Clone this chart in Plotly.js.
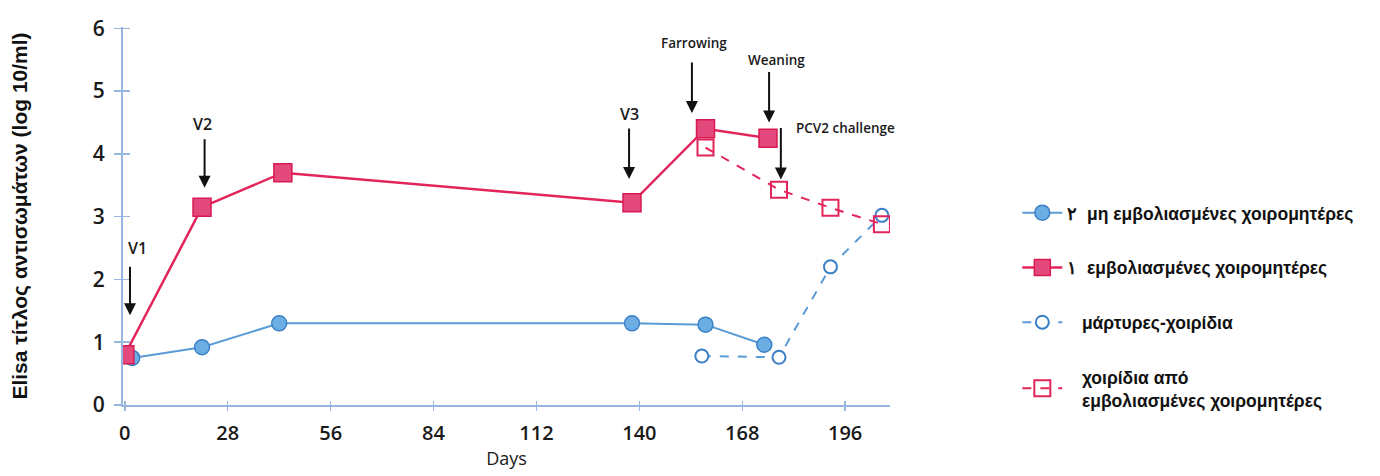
<!DOCTYPE html>
<html>
<head>
<meta charset="utf-8">
<script src="https://cdn.plot.ly/plotly-3.0.1.min.js"></script>
<style>html,body{margin:0;padding:0;background:#fff;}#chart{width:1380px;height:476px;}</style>
</head>
<body>
<div id="chart"></div>
<script>
// ---- data ----
const daysSowsUnvacc = [2, 21, 42, 138, 158, 174];
const titerSowsUnvacc = [0.75, 0.92, 1.3, 1.3, 1.28, 0.96];
const daysSowsVacc = [0, 21, 43, 138, 158, 175];
const titerSowsVacc = [0.8, 3.15, 3.7, 3.22, 4.4, 4.25];
const daysPigletsCtrl = [157, 178, 192, 206];
const titerPigletsCtrl = [0.78, 0.76, 2.2, 3.02];
const daysPigletsVacc = [158, 178, 192, 206];
const titerPigletsVacc = [4.1, 3.43, 3.14, 2.88];

const seriesNames = [
  '\u0662  μη εμβολιασμένες χοιρομητέρες',
  '\u0661  εμβολιασμένες χοιρομητέρες',
  '   μάρτυρες-χοιρίδια',
  '   χοιρίδια από<br>   εμβολιασμένες χοιρομητέρες'
];

const xTickVals = [0, 28, 56, 84, 112, 140, 168, 196];
const yTickVals = [0, 1, 2, 3, 4, 5, 6];

const eventLabels = ['V1', 'V2', 'V3', 'Farrowing', 'Weaning', 'PCV2 challenge'];
const eventDays = [1.4, 21.7, 137.2, 154.3, 175.3, 178.5];
const eventTiters = [1.43, 3.46, 3.6, 4.65, 4.5, 3.59];

// ---- styling ----
const RED = '#e2245a';
const RED_FILL = '#e4497d';
const BLUE = '#5b9bd5';
const BLUE_FILL = '#6cade3';
const BLUE_EDGE = '#3b80c6';
const AXIS = '#97b6df';

const arrowLen = [50, 50, 52, 52, 52, 53];
const textDx = [8, -2, 0, 2, 7, 65];
const textDy = [67, 64, 65, 70, 62, 52];
const textSize = [16, 16, 16, 13.5, 13.5, 13.5];

const traces = [
  {x: daysSowsUnvacc, y: titerSowsUnvacc, name: seriesNames[0], legendgroup: 'a',
   mode: 'lines+markers', line: {color: BLUE, width: 2},
   marker: {symbol: 'circle', size: 15, color: BLUE_FILL, line: {color: BLUE_EDGE, width: 1.5}}},
  {x: daysSowsVacc, y: titerSowsVacc, name: seriesNames[1], legendgroup: 'b',
   mode: 'lines+markers', line: {color: RED, width: 2.5},
   marker: {symbol: 'square', size: 18, color: RED_FILL, line: {color: '#d81c52', width: 1.5}}},
  {x: daysPigletsCtrl, y: titerPigletsCtrl, name: seriesNames[2], legendgroup: 'c',
   mode: 'lines+markers', line: {color: BLUE, width: 2, dash: 'dash'},
   marker: {symbol: 'circle', size: 13, color: '#ffffff', line: {color: BLUE_EDGE, width: 2}}},
  {x: daysPigletsVacc, y: titerPigletsVacc, name: seriesNames[3], legendgroup: 'd',
   mode: 'lines+markers', line: {color: RED, width: 2, dash: 'dash'},
   marker: {symbol: 'square-open', size: 16, color: RED, line: {color: RED, width: 2}}},
  // helper (no data) for the crossing tick marks
  {x: [null], y: [null], xaxis: 'x2', yaxis: 'y2', showlegend: false, hoverinfo: 'skip', mode: 'markers'}
];

const annotations = [];
for (let i = 0; i < eventLabels.length; i++) {
  annotations.push({
    x: eventDays[i], y: eventTiters[i], xref: 'x', yref: 'y',
    text: '', showarrow: true, ax: 0, ay: -arrowLen[i],
    arrowhead: 2, arrowsize: 1.2, arrowwidth: 2, arrowcolor: '#111111'
  });
  annotations.push({
    x: eventDays[i], y: eventTiters[i], xref: 'x', yref: 'y',
    text: eventLabels[i], showarrow: false,
    xshift: textDx[i], yshift: textDy[i],
    font: {family: 'Open Sans', size: textSize[i], color: '#1a1a1a', weight: 600}
  });
}

const layout = {
  width: 1380, height: 476,
  paper_bgcolor: '#ffffff', plot_bgcolor: '#ffffff',
  margin: {l: 123, r: 490, t: 27, b: 71},
  showlegend: true,
  xaxis: {
    range: [-0.5, 208.2], tickvals: xTickVals, ticktext: xTickVals.map(String),
    showgrid: false, zeroline: false, showline: true, linecolor: AXIS, linewidth: 2,
    ticks: 'outside', ticklen: 4, tickcolor: AXIS, tickwidth: 1.5,
    ticklabelstandoff: 5,
    tickfont: {family: 'Open Sans', size: 20, color: '#1a1a1a', weight: 600},
    title: {text: 'Days', standoff: 4, font: {family: 'Open Sans', size: 18, color: '#1a1a1a'}}
  },
  yaxis: {
    range: [0, 6.02], tickvals: yTickVals, ticktext: yTickVals.map(String),
    showgrid: false, zeroline: false, showline: true, linecolor: AXIS, linewidth: 2,
    ticks: 'outside', ticklen: 7, tickcolor: AXIS, tickwidth: 1.5,
    ticklabelstandoff: 5,
    tickfont: {family: 'Open Sans', size: 21, color: '#1a1a1a', weight: 600},
    title: {text: 'Elisa τίτλος αντισωμάτων (log 10/ml)', standoff: 59,
            font: {family: 'Liberation Sans', size: 21, color: '#111111', weight: 'bold'}}
  },
  xaxis2: {overlaying: 'x', range: [-0.5, 208.2], tickvals: xTickVals, showticklabels: false,
           showgrid: false, zeroline: false, showline: false, ticks: 'inside', ticklen: 4,
           tickcolor: AXIS, tickwidth: 1.5, side: 'bottom'},
  yaxis2: {overlaying: 'y', range: [0, 6.02], tickvals: yTickVals, showticklabels: false,
           showgrid: false, zeroline: false, showline: false, ticks: 'inside', ticklen: 7,
           tickcolor: AXIS, tickwidth: 1.5, side: 'left'},
  legend: {
    x: 1.166, y: 0.556, xanchor: 'left', yanchor: 'top',
    traceorder: 'grouped', tracegroupgap: 29, itemwidth: 40,
    bgcolor: 'rgba(0,0,0,0)',
    font: {family: 'Liberation Sans', size: 17.5, color: '#111111', weight: 'bold'}
  },
  annotations: annotations
};

Plotly.newPlot('chart', traces, layout, {displayModeBar: false, staticPlot: true});
</script>
</body>
</html>
